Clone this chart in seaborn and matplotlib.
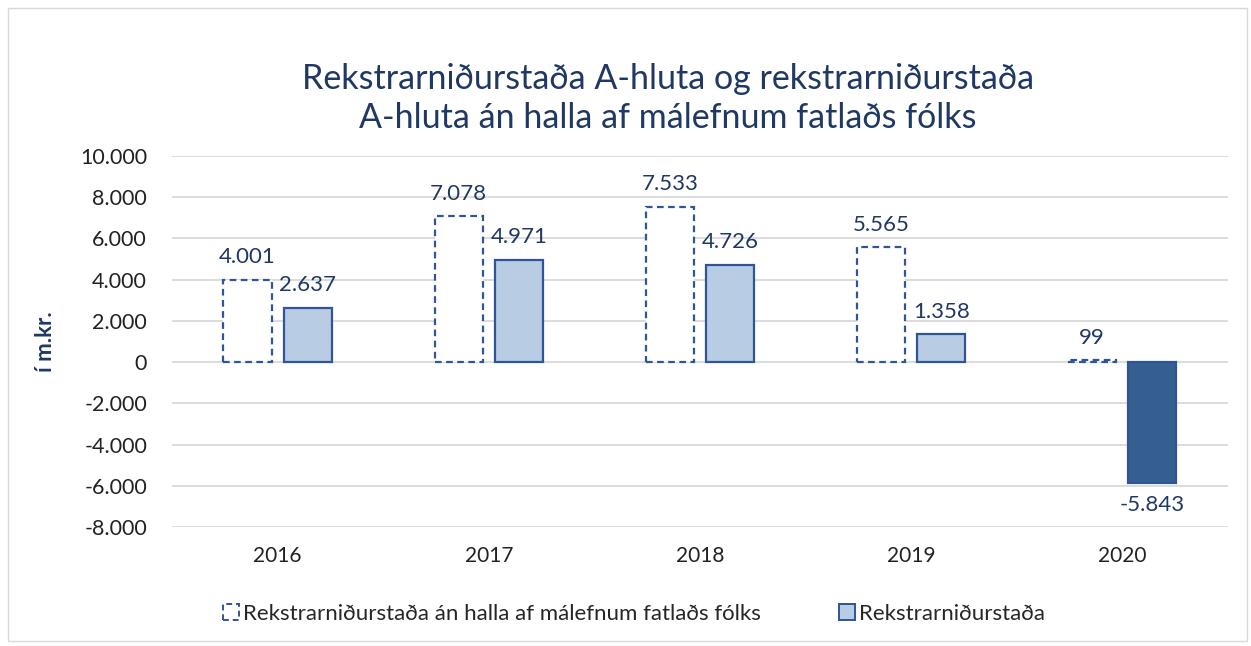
import pandas as pd
import matplotlib.pyplot as plt
import matplotlib.patches as mpatches
import seaborn as sns

# data
years = ["2016", "2017", "2018", "2019", "2020"]
an_halla = [4001, 7078, 7533, 5565, 99]
rekstur = [2637, 4971, 4726, 1358, -5843]
series = ["Rekstrarniðurstaða án halla af málefnum fatlaðs fólks", "Rekstrarniðurstaða"]
yticks = [-8000, -6000, -4000, -2000, 0, 2000, 4000, 6000, 8000, 10000]

df = pd.DataFrame({
    "ar": years * 2,
    "gildi": an_halla + rekstur,
    "rod": [series[0]] * len(years) + [series[1]] * len(years),
})

sns.set_style("white")
plt.rcParams['font.family'] = ['Lato', 'DejaVu Sans']

dark = "#1F3864"
edge = "#2F5597"
light = "#B8CCE4"
neg = "#365F91"

fig = plt.figure(figsize=(12.51, 6.46), dpi=100)
ax = fig.add_axes([0.1375, 0.1842, 0.844, 0.5743])

sns.barplot(data=df, x="ar", y="gildi", hue="rod", hue_order=series,
            width=0.57, gap=0.2, ax=ax, legend=False)

# style the bars
n = len(years)
for i, p in enumerate(ax.patches[:2 * n]):
    if i < n:
        p.set_facecolor("white")
        p.set_edgecolor(edge)
        p.set_linestyle((0, (3, 2)))
        p.set_linewidth(1.6)
    else:
        val = rekstur[i - n]
        p.set_facecolor(neg if val < 0 else light)
        p.set_edgecolor(edge)
        p.set_linewidth(1.6)

# data labels
for i, p in enumerate(ax.patches[:2 * n]):
    val = (an_halla + rekstur)[i]
    x = p.get_x() + p.get_width() / 2
    txt = f"{val:,}".replace(",", ".")
    if val >= 0:
        ax.annotate(txt, (x, val), xytext=(0, 9), textcoords="offset points",
                    ha="center", va="bottom", fontsize=16, color=dark)
    else:
        ax.annotate(txt, (x, val), xytext=(0, -9), textcoords="offset points",
                    ha="center", va="top", fontsize=16, color=dark)

ax.set_xlim(-0.5, 4.5)
ax.set_ylim(-8000, 10000)
ax.set_yticks(yticks)
ax.set_yticklabels([f"{t:,}".replace(",", ".") for t in yticks], fontsize=15.5, color="#222222")
ax.tick_params(axis="x", labelsize=15, colors="#222222", length=0, pad=14)
ax.tick_params(axis="y", length=0, pad=18)
ax.set_xlabel("")
ax.set_ylabel("í m.kr.", fontsize=16, fontweight="bold", color=dark)
ax.yaxis.set_label_coords(-0.11, 0.5)
ax.yaxis.grid(True, color="#D9D9D9", linewidth=1.3)
ax.set_axisbelow(True)
sns.despine(ax=ax, left=True, bottom=True)

fig.suptitle("Rekstrarniðurstaða A-hluta og rekstrarniðurstaða\nA-hluta án halla af málefnum fatlaðs fólks",
             x=0.534, y=0.902, fontsize=24.5, color=dark, linespacing=1.25)

# legend
handles = [
    mpatches.Patch(facecolor="white", edgecolor=edge, linestyle=(0, (3, 2)), linewidth=1.4, label=series[0]),
    mpatches.Patch(facecolor=light, edgecolor=edge, linewidth=1.4, label=series[1]),
]
fig.legend(handles=handles, loc="center", bbox_to_anchor=(0.507, 0.05), ncol=2, frameon=False,
           fontsize=16, handlelength=0.7, handleheight=0.7, handletextpad=0.2, columnspacing=3.5)

# chart border
fig.patches.append(mpatches.Rectangle((0.0065, 0.008), 0.99, 0.98, transform=fig.transFigure,
                                      fill=False, edgecolor="#D9D9D9", linewidth=1))

fig.savefig("out.png", dpi=100)
